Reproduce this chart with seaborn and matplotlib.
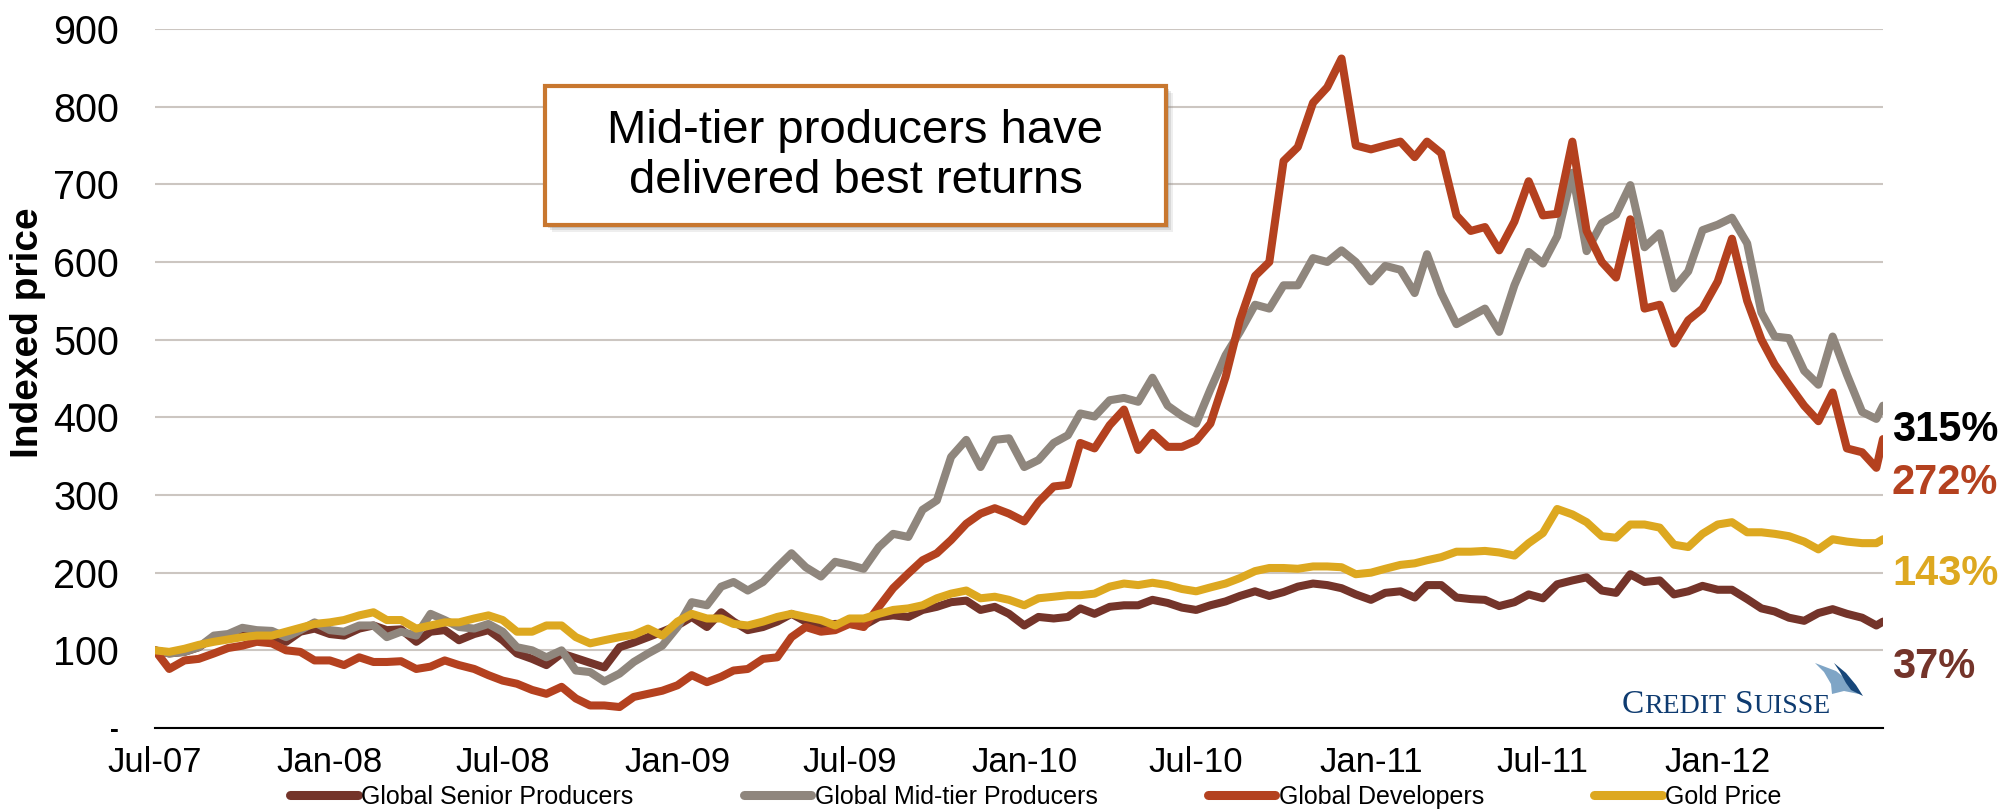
import pandas as pd
import matplotlib
matplotlib.use("Agg")
import matplotlib.pyplot as plt
import seaborn as sns
from matplotlib.lines import Line2D
from matplotlib.patches import Rectangle, Polygon

W, H = 1999, 811

# ------------------- Data (indexed, Jul-07 = 100) -------------------
# twice-monthly readings (1st and 16th) plus the last day of the series
months = pd.date_range("2007-07-01", "2012-06-01", freq="MS")
dates = [d + pd.Timedelta(days=off) for d in months for off in (0, 15)]
dates.append(pd.Timestamp("2012-06-23"))

senior = [
    100, 96, 98, 104, 117, 117, 124, 121, 119, 111,
    124, 128, 121, 119, 128, 132, 126, 127, 111, 124,
    126, 113, 121, 126, 113, 96, 89, 81, 96, 90,
    84, 78, 104, 110, 117, 124, 132, 143, 130, 149,
    137, 126, 130, 137, 147, 137, 132, 134, 134, 132,
    143, 145, 143, 152, 156, 162, 164, 152, 156, 147,
    132, 143, 141, 143, 154, 147, 156, 158, 158, 165,
    161, 155, 152, 158, 163, 170, 176, 170, 175, 182,
    186, 184, 180, 172, 165, 174, 176, 168, 184, 184,
    168, 166, 165, 157, 162, 172, 167, 185, 190, 194,
    177, 174, 198, 188, 190, 172, 176, 183, 178, 178,
    166, 154, 150, 142, 138, 148, 153, 147, 142, 132,
    137]

midtier = [
    100, 96, 98, 104, 119, 121, 129, 126, 125, 117,
    126, 136, 126, 124, 132, 132, 117, 124, 119, 147,
    139, 130, 128, 134, 124, 104, 100, 91, 100, 74,
    72, 60, 70, 85, 96, 106, 130, 162, 158, 182,
    188, 177, 188, 207, 225, 207, 195, 214, 210, 205,
    233, 250, 246, 281, 293, 349, 371, 336, 371, 373,
    336, 345, 367, 377, 405, 401, 422, 425, 420, 451,
    415, 402, 392, 436, 480, 510, 545, 540, 570, 570,
    605, 600, 615, 600, 575, 595, 590, 560, 610, 560,
    520, 530, 540, 510, 570, 613, 598, 633, 715, 614,
    650, 661, 699, 619, 637, 566, 588, 641, 648, 657,
    624, 535, 504, 502, 460, 442, 504, 455, 407, 398,
    415]

developers = [
    100, 76, 87, 89, 96, 103, 106, 111, 109, 100,
    98, 87, 87, 81, 91, 85, 85, 86, 76, 79,
    87, 81, 76, 68, 61, 57, 49, 44, 53, 38,
    29, 29, 27, 40, 44, 48, 55, 68, 59, 66,
    74, 76, 89, 91, 117, 130, 124, 126, 134, 130,
    156, 180, 199, 216, 225, 242, 263, 276, 283, 276,
    266, 291, 311, 313, 367, 360, 390, 410, 358, 380,
    362, 362, 370, 392, 452, 525, 582, 600, 730, 748,
    805, 825, 862, 750, 745, 750, 755, 735, 755, 740,
    660, 640, 645, 615, 652, 704, 660, 662, 755, 640,
    600, 580, 655, 540, 545, 495, 525, 540, 575, 630,
    550, 500, 468, 442, 415, 395, 432, 360, 355, 335,
    372]

gold = [
    100, 98, 102, 107, 111, 114, 117, 119, 119, 124,
    129, 134, 136, 139, 145, 149, 139, 139, 128, 132,
    136, 136, 141, 145, 139, 124, 124, 132, 132, 117,
    109, 113, 117, 120, 128, 119, 137, 147, 141, 141,
    134, 132, 137, 143, 147, 143, 139, 132, 141, 141,
    147, 152, 154, 158, 167, 173, 177, 167, 169, 165,
    158, 167, 169, 171, 171, 173, 182, 186, 184, 187,
    184, 179, 176, 181, 186, 193, 202, 206, 206, 205,
    208, 208, 207, 198, 200, 205, 210, 212, 216, 220,
    227, 227, 228, 226, 222, 238, 251, 282, 275, 265,
    247, 245, 262, 262, 258, 236, 233, 250, 262, 265,
    252, 252, 250, 247, 240, 230, 243, 240, 238, 238,
    243]

series_names = ["Global Senior Producers", "Global Mid-tier Producers",
                "Global Developers", "Gold Price"]
series_colors = ["#74342A", "#8F867D", "#B4411F", "#DDA820"]
end_labels = ["37%", "315%", "272%", "143%"]
end_label_colors = ["#74342A", "#000000", "#B4411F", "#DDA820"]

xtick_dates = pd.date_range("2007-07-01", "2012-01-01", freq="6MS")
ytick_values = list(range(0, 1000, 100))
ytick_labels = ["-"] + [str(v) for v in ytick_values[1:]]

df = pd.DataFrame({"Date": dates, series_names[0]: senior, series_names[1]: midtier,
                   series_names[2]: developers, series_names[3]: gold})
long = df.melt(id_vars="Date", var_name="Series", value_name="Index")

# ------------------- Plot -------------------
sns.set_style("white")
plt.rcParams["font.family"] = ["Liberation Sans", "DejaVu Sans"]
plt.rcParams["text.color"] = "black"
plt.rcParams["xtick.color"] = "black"
plt.rcParams["ytick.color"] = "black"

fig = plt.figure(figsize=(W / 100, H / 100), dpi=100)
ax = fig.add_axes([155 / W, 1 - 728 / H, (1883 - 155) / W, (728 - 29) / H])

sns.lineplot(data=long, x="Date", y="Index", hue="Series", hue_order=series_names,
             palette=series_colors, linewidth=5.8, estimator=None, legend=False, ax=ax)
for ln in ax.lines:
    ln.set_solid_joinstyle("round")
    ln.set_solid_capstyle("round")

ax.set_xlim(dates[0], dates[-1])
ax.set_ylim(0, 900)
ax.set_yticks(ytick_values)
ax.set_yticklabels(ytick_labels)
ax.set_xticks(xtick_dates)
ax.set_xticklabels([d.strftime("%b-%y") for d in xtick_dates])
ax.set_xlabel("")
ax.set_ylabel("")
ax.grid(axis="y", color="#CCC6C1", linewidth=1.5)
ax.grid(axis="x", visible=False)
ax.set_axisbelow(True)
for side in ["left", "right", "top"]:
    ax.spines[side].set_visible(False)
ax.spines["bottom"].set_color("black")
ax.spines["bottom"].set_linewidth(1.5)
ax.tick_params(axis="y", length=0, pad=26, labelsize=28.5, labelcolor="black")
ax.tick_params(axis="x", length=0, pad=13, labelsize=25, labelcolor="black")
# the zero label is a short accounting dash
zero_lab = ax.get_yticklabels()[0]
zero_lab.set_fontsize(19)
zero_lab.set_fontweight("bold")

fig.text(28 / W, 1 - 333 / H, "Indexed price", rotation=90, fontsize=28,
         fontweight="bold", ha="center", va="center")

# end-of-period returns
label_y = [667, 430, 483, 574]
for txt, col, yy in zip(end_labels, end_label_colors, label_y):
    fig.text(1892 / W, 1 - yy / H, txt, fontsize=30, fontweight="bold",
             color=col, ha="left", va="center")

# call-out box
bx0, by0, bx1, by1 = 545, 86, 1166, 225
for off, alpha in [(7, 0.12), (5, 0.18), (3, 0.25)]:
    fig.add_artist(Rectangle(((bx0 + off) / W, 1 - (by1 + off) / H), (bx1 - bx0) / W,
                             (by1 - by0) / H, transform=fig.transFigure,
                             facecolor="#7a7a7a", edgecolor="none", alpha=alpha))
fig.add_artist(Rectangle((bx0 / W, 1 - by1 / H), (bx1 - bx0) / W, (by1 - by0) / H,
                         transform=fig.transFigure, facecolor="white",
                         edgecolor="#C8772F", linewidth=3))
fig.text((bx0 + bx1) / 2 / W, 1 - 156 / H,
         "Mid-tier producers have\ndelivered best returns",
         fontsize=34, ha="center", va="center", linespacing=1.2)

# legend
handles = [Line2D([0], [0], color=c, lw=6.5, solid_capstyle="round") for c in series_colors]
fig.legend(handles, series_names, loc="center", bbox_to_anchor=(1036 / W, 1 - 797 / H),
           ncol=4, frameon=False, prop={"size": 18}, handlelength=2.7,
           handletextpad=0.15, columnspacing=4.4)

# Credit Suisse mark
cs_blue = "#0E3B70"
renderer = fig.canvas.get_renderer()
x = 1622
for s, size, gap in [("C", 24, 0), ("REDIT", 20, 9), ("S", 24, 0), ("UISSE", 20, 0)]:
    t = fig.text(x / W, 1 - 713 / H, s, fontsize=size, family="Liberation Serif",
                 color=cs_blue, ha="left", va="baseline")
    x = t.get_window_extent(renderer=renderer).x1 + gap

light_sail = [(1815, 663), (1836, 671), (1851, 683), (1859, 694), (1844, 691), (1832, 694),
              (1831, 684), (1824, 672)]
dark_sail = [(1834, 663), (1846, 673), (1856, 685), (1863, 696), (1851, 690), (1846, 683),
             (1840, 672)]
for pts, col in [(light_sail, "#7FA5C6"), (dark_sail, "#17477A")]:
    fig.add_artist(Polygon([(px / W, 1 - py / H) for px, py in pts], closed=True,
                           transform=fig.transFigure, facecolor=col, edgecolor="none"))

fig.savefig("out.png", dpi=100)
